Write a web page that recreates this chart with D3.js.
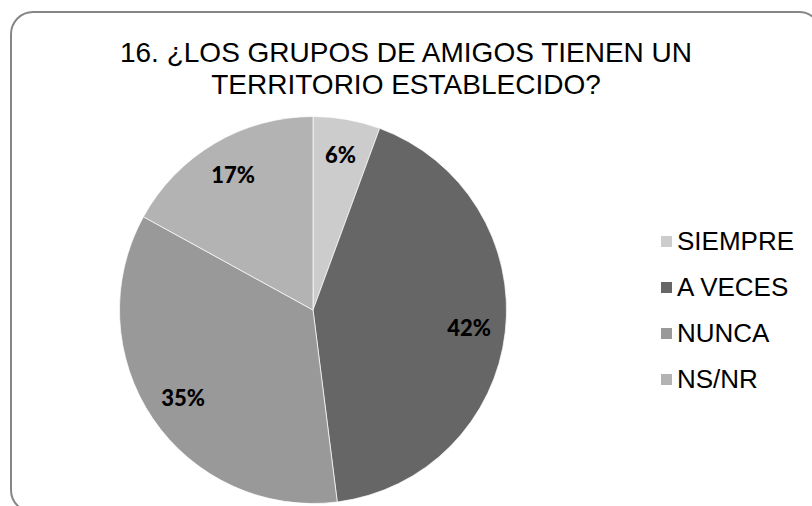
<!DOCTYPE html>
<html>
<head>
<meta charset="utf-8">
<script src="https://cdn.jsdelivr.net/npm/d3@7"></script>
<style>
  html, body { margin: 0; padding: 0; background: #ffffff; }
  svg { display: block; }
</style>
</head>
<body>
<svg id="chart" width="812" height="506"></svg>
<script>
const titleLines = ["16. ¿LOS GRUPOS DE AMIGOS TIENEN UN", "TERRITORIO ESTABLECIDO?"];
const categories = ["SIEMPRE", "A VECES", "NUNCA", "NS/NR"];
const values = [5.6, 42.4, 35.0, 17.0];
const colors = ["#cccccc", "#666666", "#999999", "#b3b3b3"];

const svg = d3.select("#chart");

// border
svg.append("rect")
  .attr("x", 11).attr("y", 12)
  .attr("width", 810).attr("height", 500)
  .attr("rx", 22).attr("ry", 22)
  .attr("fill", "#ffffff")
  .attr("stroke", "#868686")
  .attr("stroke-width", 2);

// title
svg.append("g").selectAll("text")
  .data(titleLines)
  .join("text")
  .attr("x", 406)
  .attr("y", (d, i) => 62 + i * 32)
  .attr("text-anchor", "middle")
  .attr("font-family", "Liberation Sans, Arial, sans-serif")
  .attr("font-size", 28)
  .attr("fill", "#000000")
  .text(d => d);

// pie
const cx = 313, cy = 310, R = 193.5;
const data = categories.map((c, i) => ({ cat: c, value: values[i] }));
const pie = d3.pie().sort(null).value(d => d.value);
const arcs = pie(data);
const arc = d3.arc().innerRadius(0).outerRadius(R);
const labelArc = d3.arc().innerRadius(157).outerRadius(157);
const color = d3.scaleOrdinal().domain(categories).range(colors);
const total = d3.sum(values);
const fmt = d3.format(".0%");

const g = svg.append("g").attr("transform", `translate(${cx},${cy})`);
g.selectAll("path")
  .data(arcs)
  .join("path")
  .attr("d", arc)
  .attr("fill", d => color(d.data.cat))
  .attr("stroke", "#ffffff")
  .attr("stroke-width", 0.7);

g.selectAll("text")
  .data(arcs)
  .join("text")
  .attr("transform", d => `translate(${labelArc.centroid(d)})`)
  .attr("text-anchor", "middle")
  .attr("dy", "0.36em")
  .attr("font-family", "Lato, 'Open Sans', sans-serif")
  .attr("font-weight", 900)
  .attr("font-size", 22)
  .attr("fill", "#000000")
  .text(d => fmt(d.data.value / total));

// legend
const legend = svg.append("g");
const lg = legend.selectAll("g")
  .data(categories)
  .join("g")
  .attr("transform", (d, i) => `translate(661, ${241 + i * 46})`);
lg.append("rect")
  .attr("x", 0).attr("y", -5)
  .attr("width", 11).attr("height", 11)
  .attr("fill", d => color(d));
lg.append("text")
  .attr("x", 16).attr("y", 0)
  .attr("dy", "0.36em")
  .attr("font-family", "Liberation Sans, Arial, sans-serif")
  .attr("font-size", 26)
  .attr("fill", "#000000")
  .text(d => d);
</script>
</body>
</html>
